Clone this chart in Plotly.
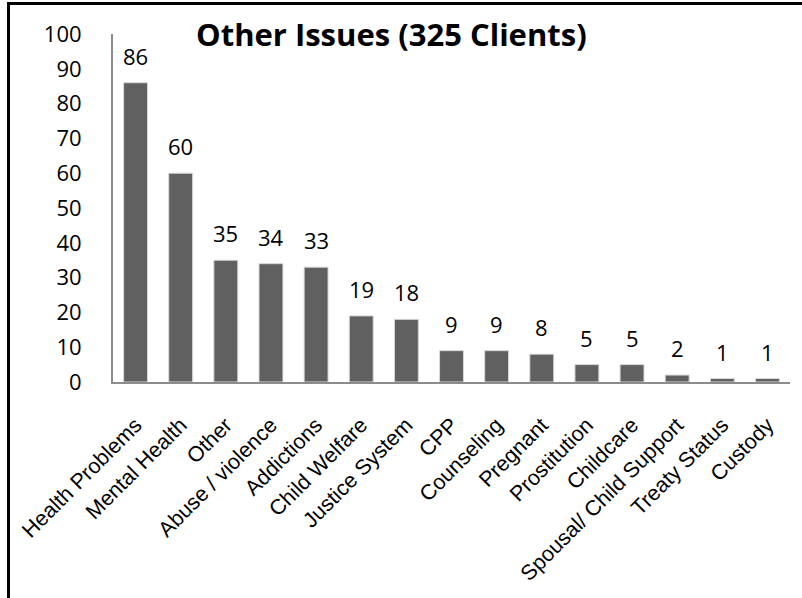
import plotly.graph_objects as go

categories = ["Health Problems", "Mental Health", "Other", "Abuse / violence", "Addictions",
              "Child Welfare", "Justice System", "CPP", "Counseling", "Pregnant",
              "Prostitution", "Childcare", "Spousal/ Child Support", "Treaty Status", "Custody"]
values = [86, 60, 35, 34, 33, 19, 18, 9, 9, 8, 5, 5, 2, 1, 1]
y_ticks = [0, 10, 20, 30, 40, 50, 60, 70, 80, 90, 100]
title_text = "Other Issues (325 Clients)"

W, H = 802, 598
ML, MR, MT, MB = 113, 12, 34, 216
pw = W - ML - MR
ph = H - MT - MB

def px_x(x):
    return (x - ML) / pw

def px_y(y):
    return (H - MB - y) / ph

fig = go.Figure()
fig.add_trace(go.Bar(
    x=categories, y=values,
    marker=dict(color="#606060", line=dict(color="#d8d8d8", width=1)),
    hoverinfo="skip",
))

for c, v in zip(categories, values):
    fig.add_annotation(x=c, y=v, text=str(v), showarrow=False, yshift=27,
                       font=dict(family="Open Sans", size=22, color="#000000"))

fig.add_annotation(xref="paper", yref="paper", x=px_x(391), y=px_y(34),
                   text="<b>" + title_text + "</b>", showarrow=False,
                   xanchor="center", yanchor="middle",
                   font=dict(family="Open Sans", size=31, color="#000000"))

# outer frame lines (left and top)
fig.add_shape(type="line", xref="paper", yref="paper",
              x0=px_x(8.5), x1=px_x(8.5), y0=px_y(2), y1=px_y(H + 2),
              line=dict(color="#000000", width=3))
fig.add_shape(type="line", xref="paper", yref="paper",
              x0=px_x(7), x1=px_x(W + 2), y0=px_y(3.5), y1=px_y(3.5),
              line=dict(color="#000000", width=3))

fig.update_layout(
    width=W, height=H,
    margin=dict(l=ML, r=MR, t=MT, b=MB),
    paper_bgcolor="white", plot_bgcolor="white",
    showlegend=False,
    bargap=0.47,
    xaxis=dict(
        type="category", tickangle=-45, showgrid=False, zeroline=False,
        showline=True, linecolor="#8c8c8c", linewidth=2,
        tickfont=dict(family="Liberation Sans", size=21.5, color="#000000"),
        ticks="", ticklabelstandoff=20, fixedrange=True,
    ),
    yaxis=dict(
        range=[0, 100], tickvals=y_ticks, showgrid=False, zeroline=False,
        showline=True, linecolor="#8c8c8c", linewidth=2,
        tickfont=dict(family="Open Sans", size=22, color="#000000"),
        ticks="", ticklabelstandoff=25, fixedrange=True,
    ),
)

fig.write_html("out.html", config={"displayModeBar": False},
               post_script="document.body.style.margin='0';document.body.style.overflow='hidden';")
